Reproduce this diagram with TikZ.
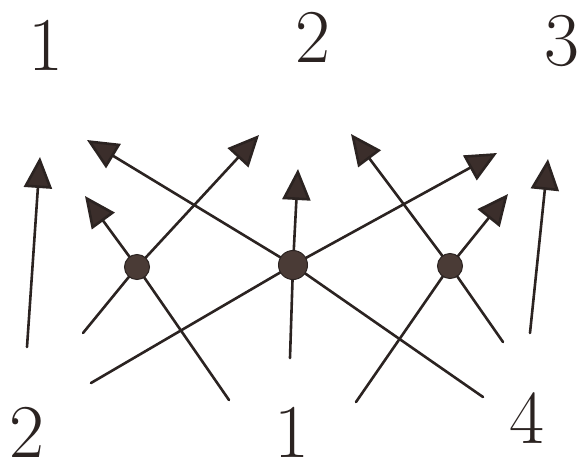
\documentclass[tikz,border=0pt]{standalone}
\usetikzlibrary{arrows.meta}
\definecolor{ink}{HTML}{2B2321}
\definecolor{headfill}{HTML}{3B2E2B}
\definecolor{dotfill}{HTML}{4A3B36}
\begin{document}
\begin{tikzpicture}[x=1pt,y=-1pt,
  lineink/.style={draw=ink,line width=2.6pt,line cap=round,line join=round},
  arrowed/.style={lineink,-{Triangle[length=31pt,width=28pt,fill=headfill]}},
  dot/.style={circle,draw=ink,line width=1pt,fill=dotfill,minimum width=24pt,minimum height=25pt,inner sep=0pt},
  num/.style={text=ink,font=\fontsize{76}{76}\selectfont,inner sep=0pt}]
\useasboundingbox (0,0) rectangle (582,469);
% labels
\node[num] (t1) at (46,45) {1};
\node[num] (t2) at (313,37) {2};
\node[num] (t3) at (562,41) {3};
\node[num] (b2) at (27,432) {2};
\node[num] (b1) at (292,432) {1};
\node[num] (b4) at (527,418) {4};
% centres of the dots
\coordinate (A) at (137,267);
\coordinate (B) at (293,265);
\coordinate (C) at (450,266);
% free ends
\coordinate (l0s) at (27,347);  \coordinate (l0t) at (40,157);
\coordinate (a1s) at (83,333);  \coordinate (a1t) at (259,135);
\coordinate (a2s) at (229,400); \coordinate (a2t) at (85,196);
\coordinate (b1s) at (290,358); \coordinate (b1t) at (298,169);
\coordinate (b2s) at (91,383);  \coordinate (b2t) at (497,153);
\coordinate (b3s) at (483,397); \coordinate (b3t) at (87,140);
\coordinate (c1s) at (356,402); \coordinate (c1t) at (508,194);
\coordinate (c2s) at (503,342); \coordinate (c2t) at (351,134);
\coordinate (r0s) at (530,333); \coordinate (r0t) at (548,159);
% arrows
\draw[arrowed] (l0s) -- (l0t);
\draw[arrowed] (a1s) -- (A) -- (a1t);
\draw[arrowed] (a2s) -- (A) -- (a2t);
\draw[arrowed] (b1s) -- (B) -- (b1t);
\draw[arrowed] (b2s) -- (B) -- (b2t);
\draw[arrowed] (b3s) -- (B) -- (b3t);
\draw[arrowed] (c1s) -- (C) -- (c1t);
\draw[arrowed] (c2s) -- (C) -- (c2t);
\draw[arrowed] (r0s) -- (r0t);
% dots
\node[dot] (dA) at (A) {};
\node[dot,minimum width=22pt,minimum height=29pt] (dB) at (B) {};
\node[dot] (dC) at (C) {};
\end{tikzpicture}
\end{document}
